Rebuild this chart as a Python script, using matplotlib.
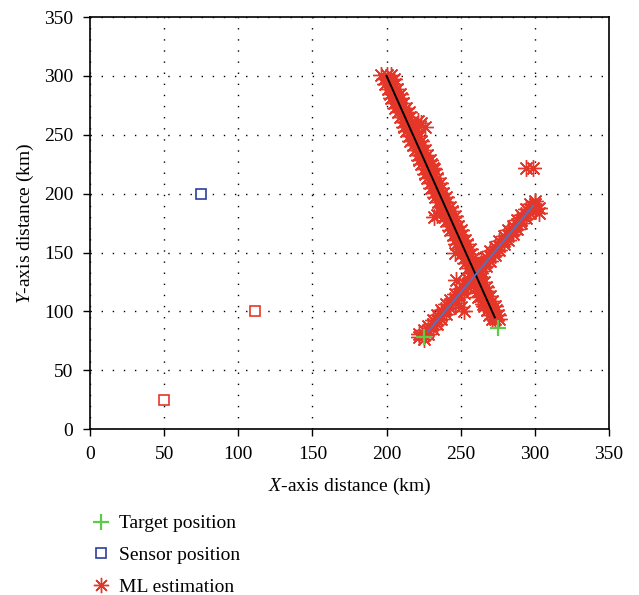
import numpy as np
import matplotlib
matplotlib.use("Agg")
import matplotlib.pyplot as plt
from matplotlib.lines import Line2D

plt.rcParams['font.family'] = ['Liberation Serif', 'DejaVu Serif']
plt.rcParams['mathtext.fontset'] = 'custom'
plt.rcParams['mathtext.it'] = 'Liberation Serif:italic'
plt.rcParams['mathtext.rm'] = 'Liberation Serif'

# ----------------------------------------
# True trajectories (start -> end), km
track1_x = [200, 273]
track1_y = [300, 95]
track2_x = [228, 299]
track2_y = [83, 190]

# Target initial positions
target_x = [225, 275]
target_y = [78, 86]

# Sensors
sensor_blue_x = [75]
sensor_blue_y = [200]
sensor_red_x = [111, 50]
sensor_red_y = [100, 25]

# ML estimates, track 1 (rows of three per y level)
ml1_x = [196, 200, 203, 198, 201, 205, 199, 203, 206, 201, 204, 207,
         202, 205, 209, 203, 207, 210, 205, 208, 211, 206, 210, 213,
         208, 211, 215, 209, 212, 216, 211, 214, 217, 212, 215, 219,
         213, 217, 220, 215, 218, 222, 216, 220, 223, 218, 221, 224,
         219, 222, 226, 221, 224, 227, 222, 225, 229, 223, 227, 230,
         225, 228, 232, 226, 230, 233, 227, 231, 234, 229, 232, 236,
         230, 234, 237, 232, 235, 238, 233, 237, 240, 235, 238, 241,
         236, 240, 243, 237, 241, 244, 239, 242, 246, 240, 244, 247,
         242, 245, 248, 243, 247, 250, 245, 248, 251, 246, 250, 253,
         247, 251, 254, 249, 252, 256, 250, 254, 257, 252, 255, 258,
         253, 257, 260, 255, 258, 261, 256, 260, 263, 257, 261, 264,
         259, 262, 266, 260, 264, 267, 262, 265, 268, 263, 267, 270,
         265, 268, 271, 266, 269, 273, 268, 271, 274, 269, 272, 275,
         271, 273, 276,
         223, 226, 221, 234, 232, 237, 228, 231, 250, 252, 246, 262, 265]
ml1_y = [301, 301, 301, 297, 297, 297, 293, 293, 293, 289, 289, 289,
         285, 285, 285, 281, 281, 281, 277, 277, 277, 273, 273, 273,
         269, 269, 269, 265, 265, 265, 261, 261, 261, 257, 257, 257,
         253, 253, 253, 249, 249, 249, 245, 245, 245, 241, 241, 241,
         237, 237, 237, 233, 233, 233, 229, 229, 229, 225, 225, 225,
         221, 221, 221, 217, 217, 217, 213, 213, 213, 209, 209, 209,
         205, 205, 205, 201, 201, 201, 197, 197, 197, 193, 193, 193,
         189, 189, 189, 185, 185, 185, 181, 181, 181, 177, 177, 177,
         173, 173, 173, 169, 169, 169, 165, 165, 165, 161, 161, 161,
         157, 157, 157, 153, 153, 153, 149, 149, 149, 145, 145, 145,
         141, 141, 141, 137, 137, 137, 133, 133, 133, 129, 129, 129,
         125, 125, 125, 121, 121, 121, 117, 117, 117, 113, 113, 113,
         109, 109, 109, 105, 105, 105, 101, 101, 101, 97, 97, 97,
         94, 94, 94,
         260, 257, 262, 182, 180, 184, 228, 222, 160, 155, 150, 112, 106]

# ML estimates, track 2 (rows of three per x level)
ml2_x = [222, 222, 225, 225, 225, 228, 228, 228, 231, 231, 231,
         234, 234, 234, 237, 237, 237, 240, 240, 240, 243, 243, 243,
         246, 246, 246, 249, 249, 249, 252, 252, 252, 255, 255, 255,
         258, 258, 258, 261, 261, 261, 264, 264, 264, 267, 267, 267,
         270, 270, 270, 273, 273, 273, 276, 276, 276, 279, 279, 279,
         282, 282, 282, 285, 285, 285, 288, 288, 288, 291, 291, 291,
         294, 294, 294, 297, 297, 297, 300, 300, 300, 303, 303,
         250, 247, 252, 294, 299]
ml2_y = [78, 81, 77, 80, 84, 81, 84, 88, 85, 89, 93,
         89, 93, 97, 94, 97, 101, 98, 102, 106, 103, 106, 110,
         107, 111, 115, 112, 115, 119, 116, 120, 124, 121, 124, 128,
         125, 129, 133, 130, 133, 137, 134, 138, 142, 139, 142, 146,
         143, 147, 151, 148, 151, 155, 152, 156, 160, 157, 160, 164,
         161, 165, 169, 166, 169, 173, 170, 174, 178, 175, 178, 182,
         179, 183, 187, 184, 187, 191, 187, 191, 194, 184, 188,
         104, 127, 100, 222, 222]

red = '#e5362a'
green = '#5ccc47'
navy = '#2b3f9e'
blue_line = '#4f74c4'

# ----------------------------------------
fig = plt.figure(figsize=(6.39, 5.95), dpi=100)
ax = fig.add_axes([0.1408, 0.2785, 0.8122, 0.6929])

star = (8, 2, 0)
ax.plot(ml1_x, ml1_y, linestyle='none', marker=star, markersize=12,
        color=red, markeredgewidth=1.0)
ax.plot(ml2_x, ml2_y, linestyle='none', marker=star, markersize=12,
        color=red, markeredgewidth=1.0)
ax.plot(track1_x, track1_y, color='black', linewidth=1.4)
ax.plot(track2_x, track2_y, color=blue_line, linewidth=1.3)

ax.plot(sensor_blue_x, sensor_blue_y, 's', markersize=7, markerfacecolor='white',
        markeredgecolor=navy, markeredgewidth=1.2)
ax.plot(sensor_red_x, sensor_red_y, 's', markersize=7, markerfacecolor='white',
        markeredgecolor=red, markeredgewidth=1.2)
ax.plot(target_x, target_y, '+', markersize=11, color=green, markeredgewidth=1.6)

ax.set_xlim(0, 350)
ax.set_ylim(0, 350)
ax.set_xticks(np.arange(0, 351, 50))
ax.set_yticks(np.arange(0, 351, 50))
ax.grid(True, linestyle=(0, (1, 7)), color='black', linewidth=1.0)
ax.tick_params(direction='out', length=5, width=1.0, labelsize=14, pad=7)
for s in ax.spines.values():
    s.set_linewidth(1.2)

ax.set_xlabel(r'$\mathit{X}$-axis distance (km)', fontsize=14, labelpad=9)
ax.set_ylabel(r'$\mathit{Y}$-axis distance (km)', fontsize=14, labelpad=6)

handles = [
    Line2D([], [], linestyle='none', marker='+', markersize=11, color=green,
           markeredgewidth=1.6),
    Line2D([], [], linestyle='none', marker='s', markersize=7, markerfacecolor='white',
           markeredgecolor=navy, markeredgewidth=1.2),
    Line2D([], [], linestyle='none', marker=star, markersize=11, color=red,
           markeredgewidth=1.0),
]
fig.legend(handles, ['Target position', 'Sensor position', 'ML estimation'],
           loc='upper left', bbox_to_anchor=(0.13, 0.148), frameon=False,
           fontsize=14, handlelength=1.0, handletextpad=0.45, labelspacing=0.72,
           borderaxespad=0)

fig.savefig('out.png', dpi=100)
